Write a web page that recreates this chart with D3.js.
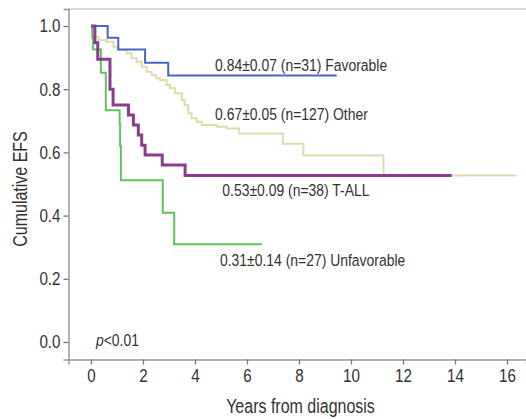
<!DOCTYPE html>
<html>
<head>
<meta charset="utf-8">
<script src="https://cdn.jsdelivr.net/npm/d3@7"></script>
<style>
  html, body { margin: 0; padding: 0; background: #fff; }
  svg { display: block; }
  text { font-family: "Liberation Sans", Arial, sans-serif; fill: #333; }
</style>
</head>
<body>
<svg id="chart" width="526" height="419"></svg>
<script>
// ---- Data ----
const favorableTimes = [0, 0.64, 1.05, 2.08, 2.97, 9.45];
const favorableSurv  = [1.0, 0.963, 0.926, 0.884, 0.843, 0.843];

const otherTimes = [0, 0.05, 0.1, 0.28, 0.6, 0.86, 1.05, 1.37, 1.56, 1.76, 1.95, 2.14, 2.33, 2.5, 2.65, 2.91, 3.04, 3.23, 3.49, 3.6, 3.74, 3.87, 4.06, 4.26, 4.83, 5.22, 5.7, 7.38, 8.17, 11.25, 16.35];
const otherSurv  = [1.0, 0.984, 0.966, 0.956, 0.95, 0.934, 0.924, 0.914, 0.898, 0.887, 0.871, 0.855, 0.845, 0.835, 0.829, 0.813, 0.803, 0.787, 0.766, 0.75, 0.724, 0.708, 0.697, 0.687, 0.681, 0.676, 0.66, 0.627, 0.59, 0.527, 0.527];

const tallTimes = [0, 0.15, 0.26, 0.73, 0.85, 1.44, 1.63, 1.82, 1.95, 2.08, 2.74, 3.62, 13.87];
const tallSurv  = [1.0, 0.947, 0.895, 0.8, 0.75, 0.718, 0.687, 0.655, 0.623, 0.592, 0.56, 0.527, 0.527];

const unfavTimes = [0, 0.05, 0.08, 0.38, 0.57, 1.1, 1.12, 1.15, 2.76, 3.2, 6.57];
const unfavSurv  = [1.0, 0.963, 0.926, 0.852, 0.733, 0.69, 0.62, 0.512, 0.409, 0.309, 0.309];

const seriesNames  = ["Other", "Favorable", "Unfavorable", "T-ALL"];
const seriesColors = ["#e0dbad", "#4866c4", "#5ec45e", "#8c3b90"];
const seriesWidths = [2, 2, 2, 3];

const labelTexts = ["0.84\u00b10.07 (n=31) Favorable", "0.67\u00b10.05 (n=127) Other", "0.53\u00b10.09 (n=38) T-ALL", "0.31\u00b10.14 (n=27) Unfavorable"];

const xTicks = [0, 2, 4, 6, 8, 10, 12, 14, 16];
const yTicks = [0.0, 0.2, 0.4, 0.6, 0.8, 1.0];
const xTitle = "Years from diagnosis";
const yTitle = "Cumulative EFS";

// ---- Chart ----
const NARROW = 0.82; // Arial Narrow ~ Arial horizontally condensed
const svg = d3.select("#chart");
const x = d3.scaleLinear().domain([-0.865, 16.73]).range([68.5, 526]);
const y = d3.scaleLinear().domain([-0.0554, 1.0538]).range([359.5, 9]);

function narrowText(parent, px, py, size) {
  return parent.append("text")
    .attr("transform", `translate(${px},${py}) scale(${NARROW},1)`)
    .style("font-size", size + "px");
}

// top frame border
svg.append("line")
  .attr("x1", x(-0.865)).attr("x2", x(16.73))
  .attr("y1", y(1.0538)).attr("y2", y(1.0538))
  .attr("stroke", "#d9d9d9").attr("stroke-width", 2);

// axes
const xAxis = svg.append("g").attr("transform", `translate(0,${y(-0.0554)})`)
  .call(d3.axisBottom(x).tickValues(xTicks).tickFormat(d3.format("d")).tickSizeOuter(0).tickSize(5).tickPadding(4));
const yAxis = svg.append("g").attr("transform", `translate(${x(-0.865)},0)`)
  .call(d3.axisLeft(y).tickValues(yTicks).tickFormat(d3.format(".1f")).tickSizeOuter(0).tickSize(5).tickPadding(3));
[xAxis, yAxis].forEach(g => {
  g.select(".domain").attr("stroke", "#999").attr("stroke-width", 1.5);
  g.selectAll(".tick line").attr("stroke", "#777").attr("stroke-width", 1.3);
  g.selectAll(".tick text").attr("fill", "#333").style("font-size", "18.5px")
    .style("font-family", '"Liberation Sans", Arial, sans-serif');
});
xAxis.selectAll(".tick text").attr("transform", `scale(${NARROW},1)`);
yAxis.selectAll(".tick text").attr("x", -8 / NARROW).attr("transform", `scale(${NARROW},1)`);

// axis titles
narrowText(svg, 300.5, 413, 19.5).attr("text-anchor", "middle").text(xTitle);
svg.append("text").attr("transform", `translate(27,189) rotate(-90) scale(${NARROW},1)`).attr("text-anchor", "middle")
  .style("font-size", "19.5px").text(yTitle);

// curves
const dataSets = [
  d3.zip(otherTimes, otherSurv),
  d3.zip(favorableTimes, favorableSurv),
  d3.zip(unfavTimes, unfavSurv),
  d3.zip(tallTimes, tallSurv)
];
const line = d3.line().x(d => x(d[0])).y(d => y(d[1])).curve(d3.curveStepAfter);
dataSets.forEach((ds, i) => {
  svg.append("path").datum(ds)
    .attr("d", line)
    .attr("fill", "none")
    .attr("stroke", seriesColors[i])
    .attr("stroke-width", seriesWidths[i])
    .attr("class", "km " + seriesNames[i]);
});

// annotations (positions in data units)
const labelPos = [[4.77, 0.859], [4.77, 0.701], [5.05, 0.462], [4.96, 0.241]];
labelTexts.forEach((t, i) => {
  narrowText(svg, x(labelPos[i][0]), y(labelPos[i][1]), 17).text(t);
});
const pt = narrowText(svg, x(0.19), y(-0.013), 17);
pt.append("tspan").style("font-style", "italic").text("p");
pt.append("tspan").text("<0.01");
</script>
</body>
</html>
